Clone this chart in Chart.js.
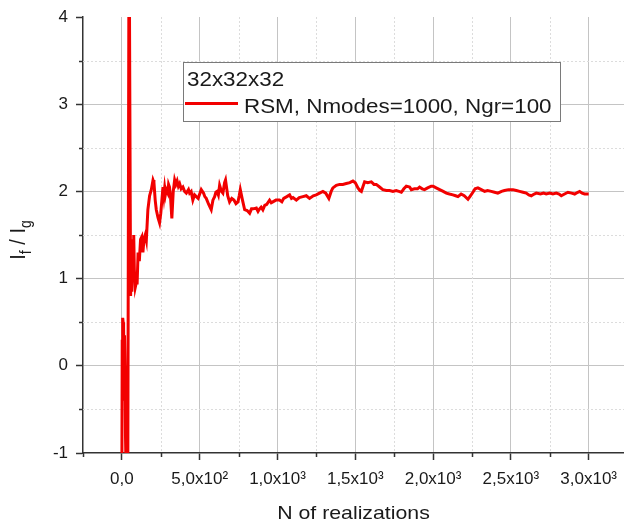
<!DOCTYPE html>
<html>
<head>
<meta charset="utf-8">
<script src="https://cdn.jsdelivr.net/npm/chart.js@4.4.1/dist/chart.umd.min.js"></script>
<style>
  html, body { margin: 0; padding: 0; background: #fff; }
</style>
</head>
<body>
<canvas id="grafico" width="624" height="524"></canvas>
<script>
// running ratio If/Ig vs number of realizations
var realizacoes = [0, 2, 4, 6, 8, 10, 12, 14, 17, 20, 23, 27, 38, 45, 48, 56, 60, 64, 68, 72,
  76, 80, 86, 92, 98, 104, 112, 120, 128, 135, 142, 150, 157, 167, 178, 189, 200, 206, 214, 221,
  232, 242, 250, 264, 270, 275, 280, 285, 295, 300, 306, 312, 321, 330, 339, 347, 355, 363, 371, 381,
  392, 403, 414, 428, 435, 445, 456, 467, 478, 490, 500, 510, 525, 533, 542, 558, 574, 585, 596, 604,
  612, 620, 628, 640, 649, 660, 666, 680, 692, 706, 720, 733, 746, 754, 761, 775, 789, 805, 821, 833,
  845, 864, 875, 885, 895, 906, 918, 930, 949, 960, 970, 990, 1013, 1028, 1040, 1060, 1078, 1090, 1100, 1121,
  1140, 1163, 1185, 1206, 1230, 1249, 1270, 1292, 1310, 1330, 1345, 1356, 1378, 1399, 1420, 1442, 1465, 1485, 1500, 1517,
  1530, 1539, 1550, 1560, 1580, 1603, 1620, 1635, 1656, 1677, 1700, 1720, 1742, 1763, 1780, 1796, 1812, 1828, 1849, 1860,
  1880, 1900, 1913, 1930, 1945, 1965, 1988, 2000, 2020, 2042, 2065, 2085, 2105, 2127, 2145, 2160, 2180, 2200, 2224, 2240,
  2256, 2270, 2288, 2310, 2331, 2350, 2374, 2395, 2416, 2440, 2459, 2485, 2513, 2535, 2556, 2578, 2599, 2615, 2631, 2650,
  2663, 2690, 2710, 2727, 2750, 2770, 2792, 2810, 2824, 2845, 2867, 2890, 2910, 2930, 2942, 2958, 2974, 3000];
var razao = [-1.2, 0.3, -0.4, 0.55, 0.5, 0.1, 0.45, -0.3, 0.35, 0.0, -0.8, -1.2, -1.2, 4.4, 4.4, 0.8, 1.2, 0.85, 1.45, 1.3,
  1.5, 1.1, 0.9, 0.95, 0.95, 1.3, 1.2, 1.45, 1.48, 1.3, 1.45, 1.5, 1.44, 1.79, 1.95, 2.02, 2.13, 2.1, 1.9, 1.79,
  1.7, 1.64, 1.75, 2.05, 1.95, 2.04, 1.97, 2.02, 1.98, 2.08, 2.05, 1.95, 1.69, 2.0, 2.13, 2.08, 2.12, 2.06, 2.09, 2.03,
  2.05, 2.0, 1.98, 2.02, 1.98, 2.0, 1.9, 1.96, 1.94, 1.92, 1.97, 2.02, 1.98, 1.94, 1.92, 1.85, 1.79, 1.9, 1.94, 1.99,
  2.0, 1.96, 2.07, 2.0, 1.98, 2.1, 2.13, 1.95, 1.88, 1.92, 1.9, 1.86, 1.88, 1.95, 2.02, 1.9, 1.79, 1.78, 1.75, 1.8,
  1.8, 1.81, 1.77, 1.8, 1.82, 1.79, 1.84, 1.85, 1.9, 1.87, 1.88, 1.9, 1.9, 1.88, 1.92, 1.94, 1.96, 1.92, 1.93, 1.9,
  1.93, 1.94, 1.95, 1.92, 1.95, 1.96, 1.98, 2.0, 1.98, 1.92, 2.0, 2.04, 2.07, 2.08, 2.08, 2.09, 2.1, 2.12, 2.1, 2.04,
  2.01, 2.0, 2.06, 2.11, 2.1, 2.11, 2.08, 2.08, 2.05, 2.02, 2.01, 2.01, 2.0, 2.01, 2.0, 1.99, 2.03, 2.06, 2.05, 2.02,
  2.03, 2.03, 2.05, 2.03, 2.02, 2.04, 2.06, 2.06, 2.04, 2.02, 2.0, 1.98, 1.97, 1.96, 1.95, 1.94, 1.97, 1.95, 1.91, 1.95,
  1.99, 2.03, 2.04, 2.02, 2.0, 2.01, 2.0, 1.99, 1.98, 2.0, 2.01, 2.02, 2.02, 2.01, 2.0, 1.99, 1.98, 1.96, 1.95, 1.97,
  1.98, 1.97, 1.98, 1.97, 1.98, 1.97, 1.98, 1.97, 1.95, 1.97, 1.99, 1.98, 1.97, 1.99, 2.0, 1.98, 1.97, 1.97];

var xTicks = [-250, 0, 250, 500, 750, 1000, 1250, 1500, 1750, 2000, 2250, 2500, 2750, 3000];
var xMajor = [0, 500, 1000, 1500, 2000, 2500, 3000];
var xLabels = ["0,0", "5,0x10²", "1,0x10³", "1,5x10³", "2,0x10³", "2,5x10³", "3,0x10³"];
var yTicks = [-1, -0.5, 0, 0.5, 1, 1.5, 2, 2.5, 3, 3.5, 4];

var legendaTitulo = "32x32x32";
var serieNome = "RSM, Nmodes=1000, Ngr=100";
var tituloX = "N of realizations";

var fonte = "'Liberation Sans', Arial, sans-serif";
var corEixo = "#333";
var corGrade = "#c4c4c4";

function ehMaiorX(v) { return xMajor.indexOf(v) >= 0; }
function ehMaiorY(v) { return Number.isInteger(v); }

// dotted minor grid + short minor ticks
var gradeMenor = {
  id: "gradeMenor",
  beforeDatasetsDraw: function (chart) {
    var ctx = chart.ctx, a = chart.chartArea;
    var sx = chart.scales.x, sy = chart.scales.y;
    ctx.save();
    ctx.strokeStyle = "#dcdcdc";
    ctx.lineWidth = 1;
    ctx.setLineDash([2, 2]);
    xTicks.forEach(function (v) {
      if (ehMaiorX(v) || v <= sx.min) return;
      var px = Math.round(sx.getPixelForValue(v)) + 0.5;
      ctx.beginPath(); ctx.moveTo(px, a.top); ctx.lineTo(px, a.bottom); ctx.stroke();
    });
    yTicks.forEach(function (v) {
      if (ehMaiorY(v)) return;
      var py = Math.round(sy.getPixelForValue(v)) + 0.5;
      ctx.beginPath(); ctx.moveTo(a.left, py); ctx.lineTo(a.right, py); ctx.stroke();
    });
    ctx.setLineDash([]);
    ctx.strokeStyle = corEixo;
    ctx.lineWidth = 1.5;
    xTicks.forEach(function (v) {
      if (ehMaiorX(v)) return;
      var px = Math.round(sx.getPixelForValue(v)) + 0.5;
      ctx.beginPath(); ctx.moveTo(px, a.bottom); ctx.lineTo(px, a.bottom + 4); ctx.stroke();
    });
    yTicks.forEach(function (v) {
      if (ehMaiorY(v)) return;
      var py = Math.round(sy.getPixelForValue(v)) + 0.5;
      ctx.beginPath(); ctx.moveTo(a.left - 4, py); ctx.lineTo(a.left, py); ctx.stroke();
    });
    ctx.restore();
  }
};

// axis titles and the boxed legend
var textos = {
  id: "textos",
  afterDraw: function (chart) {
    var ctx = chart.ctx, a = chart.chartArea;
    var esticar = 1.12;
    ctx.save();
    ctx.fillStyle = "#1a1a1a";
    ctx.textBaseline = "alphabetic";

    // x title
    ctx.font = "19px " + fonte;
    ctx.save();
    var cx = (a.left + a.right) / 2;
    ctx.translate(cx, 519);
    ctx.scale(esticar, 1);
    ctx.textAlign = "center";
    ctx.fillText(tituloX, 0, 0);
    ctx.restore();

    // y title: I_f / I_g
    var partes = [["I", 20, 0], ["f", 14, 5], [" / ", 20, 0], ["I", 20, 0], ["g", 14, 5]];
    var total = 0;
    partes.forEach(function (p) { ctx.font = p[1] + "px " + fonte; total += ctx.measureText(p[0]).width; });
    ctx.save();
    ctx.translate(25, (a.top + a.bottom) / 2 + 5);
    ctx.rotate(-Math.PI / 2);
    ctx.scale(1, esticar);
    var pos = -total / 2;
    ctx.textAlign = "left";
    partes.forEach(function (p) {
      ctx.font = p[1] + "px " + fonte;
      ctx.fillText(p[0], pos, p[2]);
      pos += ctx.measureText(p[0]).width;
    });
    ctx.restore();

    // legend
    var bx = 183, by = 62, bw = 377, bh = 59;
    ctx.fillStyle = "#fff";
    ctx.fillRect(bx, by, bw, bh);
    ctx.strokeStyle = "#7a7a7a";
    ctx.lineWidth = 1;
    ctx.strokeRect(bx + 0.5, by + 0.5, bw, bh);
    ctx.fillStyle = "#1a1a1a";
    ctx.font = "20px " + fonte;
    ctx.save();
    ctx.translate(bx + 4, 85.5);
    ctx.scale(esticar, 1);
    ctx.fillText(legendaTitulo, 0, 0);
    ctx.restore();
    var ds = chart.data.datasets[0];
    ctx.strokeStyle = ds.borderColor;
    ctx.lineWidth = ds.borderWidth;
    ctx.beginPath(); ctx.moveTo(bx + 2, 103.5); ctx.lineTo(bx + 55, 103.5); ctx.stroke();
    ctx.save();
    ctx.translate(bx + 61, 112.5);
    ctx.scale(esticar, 1);
    ctx.fillText(ds.label, 0, 0);
    ctx.restore();
    ctx.restore();
  }
};

var dados = realizacoes.map(function (n, i) { return { x: n, y: razao[i] }; });

new Chart(document.getElementById("grafico"), {
  type: "line",
  data: {
    datasets: [{
      label: serieNome,
      data: dados,
      borderColor: "#f20000",
      borderWidth: 3,
      pointRadius: 0,
      tension: 0,
      fill: false
    }]
  },
  options: {
    responsive: false,
    animation: false,
    layout: { padding: { top: 17, right: 0, left: 0, bottom: 0 } },
    plugins: { legend: { display: false }, tooltip: { enabled: false } },
    scales: {
      x: {
        type: "linear",
        min: -250,
        max: 3227,
        afterBuildTicks: function (s) { s.ticks = xTicks.map(function (v) { return { value: v }; }); },
        afterFit: function (s) { s.height = 71; s.paddingLeft = 0; s.paddingRight = 0; },
        grid: {
          color: function (c) { return c.tick && ehMaiorX(c.tick.value) ? corGrade : "rgba(0,0,0,0)"; },
          tickColor: function (c) { return c.tick && ehMaiorX(c.tick.value) ? corEixo : "rgba(0,0,0,0)"; },
          tickLength: 7,
          tickWidth: 1.5,
          lineWidth: 1
        },
        border: { color: corEixo, width: 1.5 },
        ticks: {
          autoSkip: false,
          maxRotation: 0,
          padding: 9,
          color: "#1a1a1a",
          font: { family: fonte, size: 17 },
          callback: function (v) {
            var i = xMajor.indexOf(v);
            return i >= 0 ? xLabels[i] : "";
          }
        }
      },
      y: {
        type: "linear",
        min: -1,
        max: 4,
        afterBuildTicks: function (s) { s.ticks = yTicks.map(function (v) { return { value: v }; }); },
        afterFit: function (s) { s.width = 83; s.paddingTop = 0; s.paddingBottom = 0; },
        grid: {
          color: function (c) {
            var v = c.tick ? c.tick.value : 0;
            return ehMaiorY(v) && v > -1 && v < 4 ? corGrade : "rgba(0,0,0,0)";
          },
          tickColor: function (c) { return c.tick && ehMaiorY(c.tick.value) ? corEixo : "rgba(0,0,0,0)"; },
          tickLength: 7,
          tickWidth: 1.5,
          lineWidth: 1
        },
        border: { color: corEixo, width: 1.5 },
        ticks: {
          autoSkip: false,
          padding: 8,
          color: "#1a1a1a",
          font: { family: fonte, size: 17 },
          callback: function (v) { return ehMaiorY(v) ? String(v) : ""; }
        }
      }
    }
  },
  plugins: [gradeMenor, textos]
});
</script>
</body>
</html>
